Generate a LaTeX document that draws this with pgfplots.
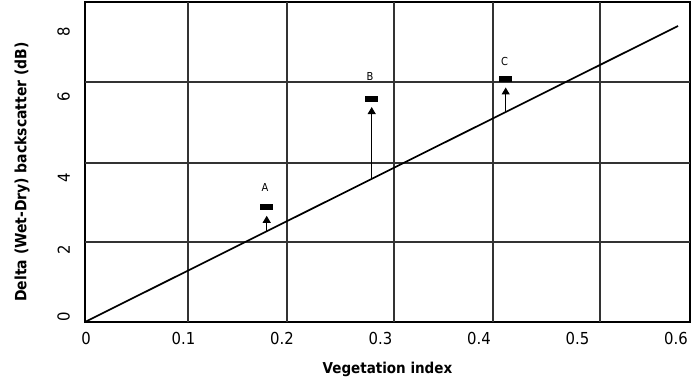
\documentclass[border=0pt]{standalone}
\usepackage{fontspec}
\setmainfont{DejaVu Sans Condensed}
\usepackage{pgfplots}
\pgfplotsset{compat=1.18}
\usetikzlibrary{arrows.meta}
\pgfdeclareplotmark{bar}{\pgfpathrectangle{\pgfpoint{-6.5bp}{-3bp}}{\pgfpoint{13bp}{6bp}}\pgfusepathqfill}
\begin{document}
\begin{tikzpicture}
\begin{axis}[
  scale only axis, width=605bp, height=320bp,
  xmin=0, xmax=0.605, ymin=0, ymax=8.828,
  axis line style={black, line width=1.3bp},
  xtick={0.001,0.0985,0.197,0.2955,0.394,0.4925,0.591},
  xticklabels={0,0.1,0.2,0.3,0.4,0.5,0.6},
  ytick={0.138,1.986,3.972,6.207,8.0},
  yticklabels={0,2,4,6,8},
  major tick length=0pt,
  tick style={draw=none},
  extra x ticks={0.103,0.202,0.309,0.408,0.515},
  extra x tick labels={},
  extra y ticks={2.207,4.386,6.621},
  extra y tick labels={},
  extra tick style={grid=major, major grid style={black!80, line width=1.3bp}, tick style={draw=none}},
  xticklabel style={font=\fontsize{16.5bp}{16.5bp}\selectfont, anchor=north, inner sep=0pt},
  xticklabel shift=10bp,
  yticklabel style={font=\fontsize{16.5bp}{16.5bp}\selectfont, rotate=90, anchor=south, inner sep=0pt},
  yticklabel shift=15bp,
  xlabel={Vegetation index},
  ylabel={Delta (Wet-Dry) backscatter (dB)},
  every axis x label/.style={at={(axis description cs:0.5,-0.126)}, anchor=north, inner sep=0pt, font=\bfseries\fontsize{15bp}{15bp}\selectfont},
  every axis y label/.style={at={(axis description cs:-0.104,0.469)}, rotate=90, anchor=center, inner sep=0pt, font=\bfseries\fontsize{15.5bp}{15.5bp}\selectfont},
  clip=false,
]
\addplot[black, line width=1.7bp] coordinates {(0,0) (0.593,8.166)};
\addplot[black, line width=1bp, -{Triangle[length=7bp,width=8bp]}] coordinates {(0.1817,2.50) (0.1817,2.93)};
\addplot[black, line width=1bp, -{Triangle[length=7bp,width=8bp]}] coordinates {(0.2867,3.95) (0.2867,5.93)};
\addplot[black, line width=1bp, -{Triangle[length=7bp,width=8bp]}] coordinates {(0.4207,5.79) (0.4207,6.47)};
\addplot[only marks, mark=bar, black] coordinates {(0.1817,3.18) (0.2867,6.152) (0.4207,6.695)};
\addplot[draw=none, nodes near coords, point meta=explicit symbolic,
  nodes near coords style={anchor=center, font=\fontsize{11bp}{11bp}\selectfont}]
  coordinates {(0.1800,3.697)[A] (0.2850,6.786)[B] (0.4195,7.181)[C]};
\end{axis}
\pgfresetboundingbox
\path[use as bounding box] ([shift={(-85bp,-65bp)}]current axis.south west) rectangle ([shift={(3bp,2bp)}]current axis.north east);
\end{tikzpicture}
\end{document}
